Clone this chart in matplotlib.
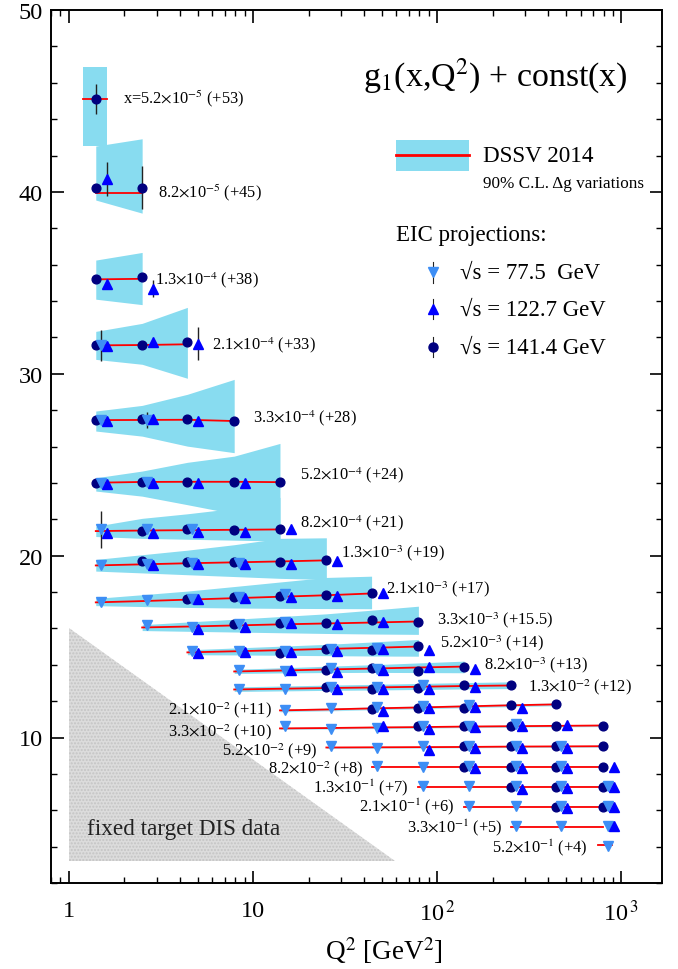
import matplotlib
matplotlib.use("Agg")
import matplotlib.pyplot as plt
import numpy as np

plt.rcParams['font.family'] = ['Liberation Serif', 'DejaVu Serif']
plt.rcParams['mathtext.fontset'] = 'stix'

# ---------------- data ----------------
Q2_NODES = [1.4, 2.5, 4.4, 7.9, 14, 25, 44, 79, 140, 250, 440, 790]

x_labels = ["5.2", "8.2", "1.3", "2.1", "3.3", "5.2", "8.2", "1.3", "2.1", "3.3", "5.2",
            "8.2", "1.3", "2.1", "3.3", "5.2", "8.2", "1.3", "2.1", "3.3", "5.2"]
x_exps = [-5, -5, -4, -4, -4, -4, -4, -3, -3, -3, -3, -3, -2, -2, -2, -2, -2, -1, -1, -1, -1]
x_offsets = ["+53", "+45", "+38", "+33", "+28", "+24", "+21", "+19", "+17", "+15.5", "+14",
             "+13", "+12", "+11", "+10", "+9", "+8", "+7", "+6", "+5", "+4"]

# DSSV 2014 curves: Q2 values, central value, lower and upper band edge
curve_q2 = [
    [1.2, 1.62],
    [1.4, 2.5],
    [1.4, 2.5],
    [1.4, 2.5, 4.4],
    [1.4, 2.5, 4.4, 7.9],
    [1.4, 2.5, 4.4, 7.9, 14],
    [1.4, 2.5, 4.4, 7.9, 14],
    [1.4, 2.5, 4.4, 7.9, 14, 25],
    [1.4, 2.5, 4.4, 7.9, 14, 25, 44],
    [2.5, 4.4, 7.9, 14, 25, 44, 79],
    [4.4, 7.9, 14, 25, 44, 79],
    [7.9, 14, 25, 44, 79, 140],
    [7.9, 14, 25, 44, 79, 140, 250],
    [14, 25, 44, 79, 140, 250, 440],
    [14, 25, 44, 79, 140, 250, 440, 790],
    [25, 44, 79, 140, 250, 440, 790],
    [44, 79, 140, 250, 440, 790],
    [79, 140, 250, 440, 790],
    [140, 250, 440, 790],
    [250, 440, 790],
    [750, 890],
]
curve_y = [
    [45.09, 45.09],
    [39.92, 39.92],
    [35.19, 35.22],
    [31.56, 31.58, 31.62],
    [27.45, 27.46, 27.47, 27.40],
    [24.01, 24.05, 24.06, 24.06, 24.04],
    [21.35, 21.38, 21.40, 21.42, 21.44],
    [19.46, 19.52, 19.58, 19.63, 19.68, 19.74],
    [17.43, 17.50, 17.58, 17.66, 17.74, 17.82, 17.92],
    [16.05, 16.10, 16.16, 16.22, 16.27, 16.32, 16.38],
    [14.68, 14.74, 14.80, 14.87, 14.93, 15.00],
    [13.63, 13.68, 13.74, 13.79, 13.85, 13.90],
    [12.64, 12.68, 12.72, 12.75, 12.79, 12.83, 12.86],
    [11.49, 11.54, 11.60, 11.65, 11.71, 11.77, 11.82],
    [10.50, 10.52, 10.55, 10.57, 10.60, 10.62, 10.64, 10.66],
    [9.45, 9.46, 9.47, 9.48, 9.50, 9.51, 9.52],
    [8.40, 8.40, 8.40, 8.40, 8.40, 8.40],
    [7.30, 7.30, 7.30, 7.30, 7.30],
    [6.20, 6.20, 6.20, 6.20],
    [5.10, 5.10, 5.10],
    [4.11, 4.11],
]
band_lo = [
    [42.50, 42.50],
    [39.55, 38.83],
    [34.10, 33.80],
    [30.79, 30.52, 29.75],
    [26.85, 26.57, 26.02, 25.66],
    [23.55, 23.27, 22.80, 22.30, 20.80],
    [21.05, 20.95, 20.90, 20.85, 20.80],
    [19.15, 19.05, 18.95, 18.85, 18.75, 18.69],
    [17.25, 17.20, 17.15, 17.12, 17.10, 17.09, 17.08],
    [15.88, 15.84, 15.80, 15.76, 15.72, 15.69, 15.67],
    [14.55, 14.54, 14.52, 14.50, 14.48, 14.47],
    [13.52, 13.55, 13.57, 13.58, 13.57, 13.56],
    [12.53, 12.56, 12.59, 12.61, 12.64, 12.67, 12.69],
    [11.41, 11.46, 11.52, 11.57, 11.63, 11.69, 11.74],
    [10.44, 10.46, 10.49, 10.51, 10.54, 10.56, 10.58, 10.60],
    [9.40, 9.41, 9.42, 9.43, 9.45, 9.46, 9.47],
    [8.36, 8.36, 8.36, 8.36, 8.36, 8.36],
    [7.27, 7.27, 7.27, 7.27, 7.27],
    [6.17, 6.17, 6.17, 6.17],
    [5.08, 5.08, 5.08],
    [4.08, 4.08],
]
band_hi = [
    [46.85, 46.85],
    [42.52, 42.92],
    [36.25, 36.67],
    [32.33, 32.77, 33.65],
    [27.95, 28.26, 28.87, 29.69],
    [24.28, 24.65, 25.13, 25.47, 26.17],
    [21.62, 22.05, 22.30, 22.60, 23.20],
    [19.79, 20.05, 20.30, 20.60, 20.95, 20.98],
    [17.65, 17.85, 18.05, 18.30, 18.55, 18.80, 18.87],
    [16.20, 16.35, 16.50, 16.65, 16.80, 17.00, 17.22],
    [14.82, 14.92, 15.02, 15.12, 15.25, 15.39],
    [13.75, 13.83, 13.92, 14.00, 14.10, 14.20],
    [12.78, 12.83, 12.88, 12.92, 12.97, 13.02, 13.06],
    [11.57, 11.62, 11.68, 11.73, 11.79, 11.85, 11.90],
    [10.56, 10.58, 10.61, 10.63, 10.66, 10.68, 10.70, 10.72],
    [9.50, 9.51, 9.52, 9.53, 9.55, 9.56, 9.57],
    [8.44, 8.44, 8.44, 8.44, 8.44, 8.44],
    [7.33, 7.33, 7.33, 7.33, 7.33],
    [6.23, 6.23, 6.23, 6.23],
    [5.12, 5.12, 5.12],
    [4.14, 4.14],
]

# EIC projections per x-bin: (Q2 node index, value, error)
pts_141 = [
    [(0, 45.10, 0.83)],
    [(0, 40.24, 0), (1, 40.24, 1.2)],
    [(0, 35.19, 0), (1, 35.34, 0)],
    [(0, 31.56, 0), (1, 31.60, 0), (2, 31.74, 0)],
    [(0, 27.45, 0), (1, 27.49, 0), (2, 27.49, 0), (3, 27.40, 0)],
    [(0, 24.01, 0), (1, 24.06, 0), (2, 24.06, 0), (3, 24.06, 0), (4, 24.04, 0)],
    [(1, 21.35, 0), (2, 21.44, 0), (3, 21.40, 0), (4, 21.44, 0)],
    [(1, 19.68, 0), (2, 19.63, 0), (3, 19.63, 0), (4, 19.65, 0), (5, 19.77, 0)],
    [(2, 17.62, 0), (3, 17.70, 0), (4, 17.77, 0), (5, 17.81, 0), (6, 17.92, 0)],
    [(3, 16.22, 0), (4, 16.27, 0), (5, 16.27, 0), (6, 16.45, 0), (7, 16.34, 0)],
    [(4, 14.66, 0), (5, 14.88, 0), (6, 14.80, 0), (7, 15.02, 0)],
    [(5, 13.70, 0), (6, 13.83, 0), (7, 13.65, 0), (8, 13.89, 0)],
    [(5, 12.79, 0), (6, 12.68, 0), (7, 12.73, 0), (8, 12.86, 0), (9, 12.86, 0)],
    [(6, 11.58, 0), (7, 11.63, 0), (8, 11.63, 0), (9, 11.76, 0), (10, 11.82, 0)],
    [(7, 10.62, 0), (8, 10.62, 0), (9, 10.62, 0), (10, 10.62, 0), (11, 10.62, 0)],
    [(8, 9.52, 0), (9, 9.52, 0), (10, 9.52, 0), (11, 9.52, 0)],
    [(8, 8.39, 0), (9, 8.39, 0), (10, 8.39, 0), (11, 8.39, 0)],
    [(9, 7.29, 0), (10, 7.29, 0), (11, 7.29, 0)],
    [(10, 6.19, 0), (11, 6.19, 0)],
    [],
    [],
]
pts_122 = [
    [],
    [(0, 40.69, 0.93)],
    [(0, 34.92, 0), (1, 34.68, 0.46)],
    [(0, 31.52, 0), (1, 31.74, 0), (2, 31.65, 0.9)],
    [(0, 27.40, 0), (1, 27.49, 0), (2, 27.40, 0)],
    [(0, 23.95, 0), (1, 23.97, 0), (2, 23.97, 0), (3, 23.97, 0)],
    [(0, 21.22, 0), (1, 21.25, 0), (2, 21.30, 0), (3, 21.30, 0), (4, 21.44, 0)],
    [(1, 19.50, 0), (2, 19.52, 0), (3, 19.52, 0), (4, 19.52, 0), (5, 19.71, 0)],
    [(2, 17.60, 0), (3, 17.68, 0), (4, 17.74, 0), (5, 17.77, 0), (6, 17.96, 0)],
    [(2, 15.98, 0), (3, 16.09, 0), (4, 16.27, 0), (5, 16.22, 0), (6, 16.34, 0)],
    [(2, 14.62, 0), (3, 14.69, 0), (4, 14.69, 0), (5, 14.75, 0), (6, 14.84, 0), (7, 14.80, 0)],
    [(4, 13.70, 0), (5, 13.59, 0), (6, 13.70, 0), (7, 13.89, 0), (8, 13.78, 0)],
    [(5, 12.64, 0), (6, 12.64, 0), (7, 12.68, 0), (8, 12.79, 0)],
    [(6, 11.45, 0), (7, 11.63, 0), (8, 11.69, 0), (9, 11.63, 0)],
    [(6, 10.62, 0), (7, 10.48, 0), (8, 10.59, 0), (9, 10.62, 0), (10, 10.66, 0)],
    [(7, 9.34, 0), (8, 9.43, 0), (9, 9.43, 0), (10, 9.43, 0)],
    [(8, 8.33, 0), (9, 8.33, 0), (10, 8.33, 0), (11, 8.39, 0)],
    [(9, 7.19, 0), (10, 7.23, 0), (11, 7.29, 0)],
    [(10, 6.15, 0), (11, 6.19, 0)],
    [(11, 5.12, 0)],
    [],
]
pts_77 = [
    [],
    [],
    [],
    [(0, 31.56, 0.87)],
    [(0, 27.45, 0), (1, 27.45, 0.46)],
    [(0, 24.00, 0), (1, 24.06, 0)],
    [(0, 21.44, 1.0), (1, 21.44, 0), (2, 21.44, 0)],
    [(0, 19.46, 0), (1, 19.55, 0), (2, 19.60, 0), (3, 19.60, 0)],
    [(0, 17.43, 0), (1, 17.55, 0), (2, 17.62, 0), (3, 17.70, 0), (4, 17.87, 0)],
    [(1, 16.16, 0), (2, 16.09, 0), (3, 16.22, 0), (4, 16.34, 0)],
    [(2, 14.75, 0), (3, 14.75, 0), (4, 14.75, 0), (5, 14.88, 0), (6, 14.93, 0)],
    [(3, 13.70, 0), (4, 13.65, 0), (5, 13.83, 0), (6, 13.78, 0)],
    [(3, 12.64, 0), (4, 12.68, 0), (5, 12.79, 0), (6, 12.79, 0), (7, 12.86, 0)],
    [(4, 11.50, 0), (5, 11.63, 0), (6, 11.70, 0), (7, 11.72, 0), (8, 11.76, 0)],
    [(4, 10.62, 0), (5, 10.48, 0), (6, 10.53, 0), (7, 10.62, 0), (8, 10.62, 0), (9, 10.72, 0)],
    [(5, 9.56, 0), (6, 9.43, 0), (7, 9.52, 0), (8, 9.52, 0), (9, 9.52, 0), (10, 9.56, 0)],
    [(6, 8.42, 0), (7, 8.39, 0), (8, 8.42, 0), (9, 8.42, 0), (10, 8.42, 0)],
    [(7, 7.32, 0), (8, 7.32, 0), (9, 7.32, 0), (10, 7.32, 0), (11, 7.32, 0)],
    [(8, 6.22, 0), (9, 6.22, 0), (10, 6.22, 0), (11, 6.22, 0)],
    [(9, 5.12, 0), (10, 5.12, 0), (11, 5.12, 0)],
    [(11, 4.06, 0)],
]

# label anchor positions (Q2, value)
label_q2 = [1.98, 3.03, 2.95, 6.0, 10.0, 18.0, 18.0, 30.1, 52.7, 99.6, 103, 179, 310,
            3.47, 3.47, 6.81, 12.1, 21.2, 37.6, 68.5, 198]
label_y = [45.2, 39.98, 35.19, 31.62, 27.6, 24.47, 21.83, 20.18, 18.2, 16.49, 15.23, 14.02, 12.8,
           11.55, 10.33, 9.30, 8.32, 7.28, 6.24, 5.1, 4.0]

fixed_q2 = [1.0, 1.0, 59.0]
fixed_y = [16.0, 3.2, 3.2]

BAND = '#88dcf0'
C141 = '#000080'
C122 = '#0000ff'
C77 = '#3d8ef5'

# ---------------- figure ----------------
fig = plt.figure(figsize=(6.78, 9.70), dpi=100)
ax = fig.add_axes([51/678, 1-884/970, 611/678, 873/970])
ax.set_xscale('log')
ax.set_xlim(0.8, 1660)
ax.set_ylim(2, 50)

# fixed target region
ax.fill(fixed_q2, fixed_y, facecolor='#dcdcdc', edgecolor='#c4c4c4', hatch='.....', lw=0, zorder=0.5)
ax.text(1.25, 4.7, 'fixed target DIS data', fontsize=16.7, color='#222222', zorder=1)

for i in range(len(curve_q2)):
    light = i >= 13
    ax.fill_between(curve_q2[i], band_lo[i], band_hi[i], color=BAND if not light else '#a8e6f5',
                    lw=0, zorder=1)
    ax.plot(curve_q2[i], curve_y[i], color='red', lw=1.3, zorder=2)

def draw(pts, shift, marker, color, ms):
    for row in pts:
        if not row:
            continue
        q = [Q2_NODES[k] * shift for k, _, _ in row]
        v = [val for _, val, _ in row]
        e = [err for _, _, err in row]
        ax.errorbar(q, v, yerr=e, fmt='none', ecolor='#222222', elinewidth=1.0, capsize=0, zorder=3)
        ax.plot(q, v, ls='none', marker=marker, ms=ms, mfc=color, mec=color, zorder=4)

draw(pts_141, 1.0, 'o', C141, 6.3)
draw(pts_77, 1.065, 'v', C77, 7.0)
draw(pts_122, 1.147, '^', C122, 7.0)

for i in range(len(x_labels)):
    prefix = 'x=' if i == 0 else ''
    s = prefix + x_labels[i] + r'$\times$10$^{' + str(x_exps[i]) + '}$ (' + x_offsets[i] + ')'
    ax.text(label_q2[i], label_y[i], s, fontsize=11.8, va='center', ha='left', zorder=5)

# ---------------- ticks ----------------
ax.set_yticks([10, 20, 30, 40, 50])
ax.set_yticks(np.arange(2, 50, 2), minor=True)
ax.set_xticks([1, 10, 100, 1000])
ax.set_xticklabels(['1', '10', r'10$^{\,2}$', r'10$^{\,3}$'])
ax.tick_params(which='both', direction='in', top=True, right=True, labelsize=17.5)
ax.tick_params(which='major', length=9, width=1.2)
ax.tick_params(which='minor', length=4.5, width=1.0)
ax.tick_params(axis='x', pad=12)
ax.tick_params(axis='y', pad=6)
for sp in ax.spines.values():
    sp.set_linewidth(1.4)
ax.set_xlabel(r'Q$^2$ [GeV$^2$]', fontsize=19.5)
ax.xaxis.set_label_coords(0.545, -0.058)

# ---------------- legend / title ----------------
T = ax.transAxes
ax.text(0.511, 0.926, r'g$_1$(x,Q$^2$) + const(x)', transform=T, fontsize=24.4, va='center', ha='left')
ax.add_patch(plt.Rectangle((0.5646, 0.8156), 0.1194, 0.0355, transform=T, facecolor=BAND, lw=0))
ax.plot([0.5646, 0.684], [0.834, 0.834], color='red', lw=2, transform=T)
ax.text(0.7077, 0.8328, 'DSSV 2014', transform=T, fontsize=16.7, va='center')
ax.text(0.7077, 0.8020, '90% C.L. Δg variations', transform=T, fontsize=12.3, va='center')
ax.text(0.5646, 0.7423, 'EIC projections:', transform=T, fontsize=16.5, va='center')
leg_y = [0.6996, 0.6575, 0.6140]
leg_m = ['v', '^', 'o']
leg_c = [C77, C122, C141]
leg_t = ['√s = 77.5  GeV', '√s = 122.7 GeV', '√s = 141.4 GeV']
for yy, m, c, t in zip(leg_y, leg_m, leg_c, leg_t):
    ax.plot([0.625, 0.625], [yy - 0.012, yy + 0.012], color='#222222', lw=0.8, transform=T)
    ax.plot([0.625], [yy], ls='none', marker=m, ms=6.5, mfc=c, mec=c, transform=T)
    ax.text(0.669, yy, t, transform=T, fontsize=16.4, va='center')

fig.savefig('out.png', dpi=100)
